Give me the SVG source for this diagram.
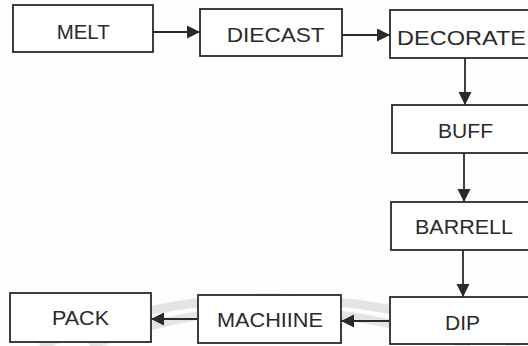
<svg xmlns="http://www.w3.org/2000/svg" width="528" height="346" viewBox="0 0 528 346">
<defs>
<style>
.box{fill:#fff;stroke:#2a2a2a;stroke-width:1.8}
.lbl{font-family:"Liberation Sans",Arial,sans-serif;font-size:21px;fill:#2a2a2a}
.con{stroke:#2a2a2a;stroke-width:1.8;fill:none}
.wm{stroke:#d8d8d8;stroke-width:9;fill:none;opacity:0.7}
</style>
<marker id="ah" markerUnits="userSpaceOnUse" markerWidth="14" markerHeight="14" refX="13" refY="6.5" orient="auto">
<path d="M0,0 L13,6.5 L0,13 Z" fill="#2a2a2a"/>
</marker>
</defs>
<rect width="528" height="346" fill="#fdfdfd"/>
<g id="watermark">
<path class="wm" d="M40,346 Q260,250 520,346"/>
<path class="wm" d="M90,346 Q260,275 470,346"/>
</g>
<g id="connectors">
<line class="con" x1="153" y1="32" x2="200" y2="32" marker-end="url(#ah)"/>
<line class="con" x1="342" y1="35" x2="390" y2="35" marker-end="url(#ah)"/>
<line class="con" x1="465" y1="58" x2="465" y2="105" marker-end="url(#ah)"/>
<line class="con" x1="464" y1="153" x2="464" y2="202" marker-end="url(#ah)"/>
<line class="con" x1="463" y1="250" x2="463" y2="297" marker-end="url(#ah)"/>
<line class="con" x1="390" y1="321" x2="341" y2="321" marker-end="url(#ah)"/>
<line class="con" x1="198" y1="319" x2="151" y2="319" marker-end="url(#ah)"/>
</g>
<g id="melt"><rect class="box" x="13" y="5" width="140" height="47"/><text class="lbl" x="56.7" y="38.5" textLength="53" lengthAdjust="spacingAndGlyphs">MELT</text></g>
<g id="diecast"><rect class="box" x="200" y="9" width="142" height="47"/><text class="lbl" x="226.7" y="41.7" textLength="98" lengthAdjust="spacingAndGlyphs">DIECAST</text></g>
<g id="decorate"><rect class="box" x="390" y="10" width="150" height="48"/><text class="lbl" x="397" y="45" textLength="129" lengthAdjust="spacingAndGlyphs">DECORATE</text></g>
<g id="buff"><rect class="box" x="392" y="105" width="150" height="48"/><text class="lbl" x="438" y="137.7" textLength="55" lengthAdjust="spacingAndGlyphs">BUFF</text></g>
<g id="barrell"><rect class="box" x="391" y="202" width="150" height="48"/><text class="lbl" x="415" y="234" textLength="98" lengthAdjust="spacingAndGlyphs">BARRELL</text></g>
<g id="dip"><rect class="box" x="390" y="297" width="150" height="47"/><text class="lbl" x="445" y="330" textLength="35" lengthAdjust="spacingAndGlyphs">DIP</text></g>
<g id="machiine"><rect class="box" x="198" y="295" width="143" height="48"/><text class="lbl" x="217" y="327" textLength="106" lengthAdjust="spacingAndGlyphs">MACHIINE</text></g>
<g id="pack"><rect class="box" x="10" y="293" width="141" height="49"/><text class="lbl" x="52" y="325" textLength="57" lengthAdjust="spacingAndGlyphs">PACK</text></g>
</svg>
